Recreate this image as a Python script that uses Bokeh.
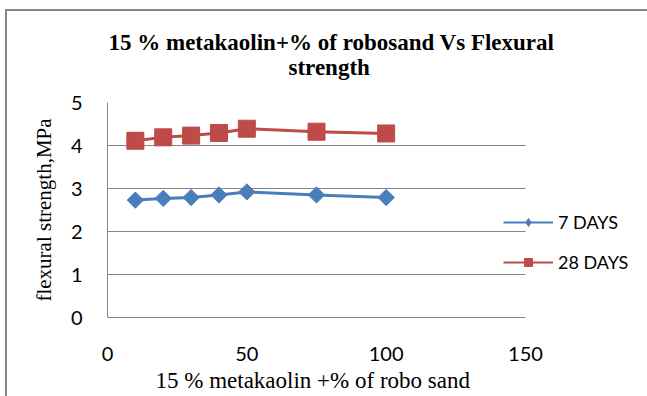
import numpy as np
from bokeh.plotting import figure
from bokeh.models import Legend, LegendItem, Title, BoxAnnotation
from bokeh.embed import file_html
from bokeh.resources import INLINE

# ---- data ----
x_pct = [10, 20, 30, 40, 50, 75, 100]
days7 = [2.73, 2.77, 2.79, 2.85, 2.92, 2.85, 2.79]
days28 = [4.11, 4.19, 4.23, 4.29, 4.39, 4.32, 4.28]
series_names = ["7 DAYS", "28 DAYS"]
x_ticks = [0, 50, 100, 150]
y_ticks = [0, 1, 2, 3, 4, 5]
title_lines = ["15 % metakaolin+% of robosand Vs Flexural", "strength"]
x_label = "15 % metakaolin +% of robo sand"
y_label = "flexural strength,MPa"

BLUE = "#4A7EBB"
RED = "#BE4B48"
GRAY = "#868686"

# layout (pixels)
W, H = 647, 396
FRAME_L, AXIS_R, FRAME_T, FRAME_B = 107, 525, 102, 317
X_MAX = 150
x_end = X_MAX * (W - FRAME_L) / (AXIS_R - FRAME_L)  # frame runs to the right edge

p = figure(width=W, height=H, x_range=(0, x_end), y_range=(0, 5),
           output_backend="svg", toolbar_location=None,
           min_border_left=FRAME_L, min_border_right=0,
           min_border_top=FRAME_T, min_border_bottom=H - FRAME_B)
p.background_fill_color = "white"
p.border_fill_color = "white"
p.outline_line_color = None
p.title = None

# title: two lines (first added sits closest to the frame)
p.add_layout(Title(text=title_lines[1], align="left", offset=181, standoff=46,
                   text_font="Liberation Serif", text_font_style="bold",
                   text_font_size="23px", text_color="black"), "above")
p.add_layout(Title(text=title_lines[0], align="left", offset=1, standoff=-50,
                   text_font="Liberation Serif", text_font_style="bold",
                   text_font_size="23px", text_color="black"), "above")

for ax in (p.xaxis, p.yaxis):
    ax.major_tick_out = 0
    ax.major_tick_in = 0
    ax.minor_tick_out = 0
    ax.minor_tick_in = 0
    ax.axis_line_color = GRAY
    ax.major_label_text_font = "Lato"
    ax.major_label_text_font_size = "20px"
    ax.major_label_text_color = "black"
    ax.axis_label_text_font = "Liberation Serif"
    ax.axis_label_text_font_style = "normal"
    ax.axis_label_text_color = "black"

p.xaxis.ticker = x_ticks
p.xaxis.bounds = (0, X_MAX)
p.yaxis.ticker = y_ticks
p.xaxis.major_label_standoff = 29
p.yaxis.major_label_standoff = 25
p.yaxis.axis_label = y_label
p.yaxis.axis_label_text_font_size = "21px"
p.yaxis.axis_label_standoff = 12

# x-axis title, placed under the tick labels
p.add_layout(Title(text=x_label, align="left", offset=48, standoff=5,
                   text_font="Liberation Serif", text_font_style="normal",
                   text_font_size="23px", text_color="black"), "below")

p.xgrid.visible = False
p.ygrid.ticker = y_ticks
p.ygrid.grid_line_color = GRAY
grid = p.ygrid[0]
if "cross_bounds" in grid.properties():
    grid.cross_bounds = (0, X_MAX)
else:
    p.add_layout(BoxAnnotation(left=X_MAX, fill_color="white", fill_alpha=1,
                               line_alpha=0, level="underlay"))

# series
p.line(x_pct, days7, line_color=BLUE, line_width=3)
p.scatter(x_pct, days7, marker="square", angle=np.pi / 4, size=11.5,
          fill_color=BLUE, line_color=BLUE)
p.line(x_pct, days28, line_color=RED, line_width=3)
p.scatter(x_pct, days28, marker="square", size=17,
          fill_color=RED, line_color=RED)

# hidden legend glyphs (smaller, as in the reference legend)
l1 = p.line(x_pct, days7, line_color=BLUE, line_width=2, visible=False)
m1 = p.scatter(x_pct, days7, marker="diamond", size=13,
               fill_color=BLUE, line_color=BLUE, visible=False)
l2 = p.line(x_pct, days28, line_color=RED, line_width=2, visible=False)
m2 = p.scatter(x_pct, days28, marker="square", size=11,
               fill_color=RED, line_color=RED, visible=False)

legend = Legend(items=[LegendItem(label=series_names[0], renderers=[l1, m1]),
                       LegendItem(label=series_names[1], renderers=[l2, m2])],
                location=(396, 44), border_line_color=None,
                background_fill_alpha=0, padding=0, margin=0, spacing=18,
                glyph_width=50, glyph_height=20, label_standoff=5,
                label_height=20, label_text_font="Lato",
                label_text_font_size="18px", label_text_color="black",
                inactive_fill_alpha=0, click_policy="none")
p.add_layout(legend)

# outer chart border (left and top edges, as in the reference)
p.stylesheets = [
    ":host::after { content: ''; position: absolute; left: 5px; top: 9px; "
    "width: 642px; height: 387px; box-sizing: border-box; "
    "border-left: 2.5px solid #868686; border-top: 2.5px solid #868686; "
    "pointer-events: none; z-index: 10; }"
]

open("out.html", "w").write(file_html(p, INLINE))
